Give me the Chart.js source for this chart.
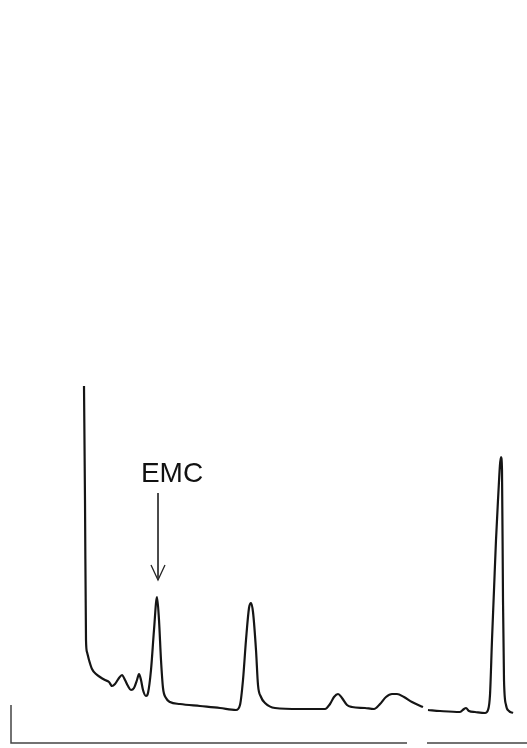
<!DOCTYPE html>
<html>
<head>
<meta charset="utf-8">
<script src="https://cdn.jsdelivr.net/npm/chart.js@4/dist/chart.umd.min.js"></script>
<style>
  html, body { margin: 0; padding: 0; background: #fff; }
  #wrap { width: 527px; height: 748px; position: relative; }
</style>
</head>
<body>
<div id="wrap"><canvas id="chrom"></canvas></div>
<script>
// Chromatogram trace: retention position and detector signal
// (signal measured upward from the bottom edge of the plot frame)
const TRACE_X = [84, 85, 86, 87, 89, 92, 96, 100, 105, 109, 112, 115, 119, 122, 125, 128, 131, 134, 137, 139,
  141, 143, 146, 148, 151, 154, 157, 159, 161, 163, 166, 170, 180, 200, 220, 236, 240, 243, 246, 249,
  251, 253, 256, 258, 261, 265, 275, 300, 325, 330, 334, 338, 342, 347, 352, 365, 374, 380, 386, 392,
  397, 404, 412, 423, 425,
  428, 440, 460, 464, 466, 469, 475, 485, 488, 490, 492, 494, 496, 498, 501, 502, 503, 504, 506, 509, 513];
const TRACE_Y = [362, 248, 108, 96, 88, 79, 74, 71, 68, 66, 62, 64, 70, 73, 68, 62, 58, 60, 68, 74,
  68, 58, 52, 55, 78, 118, 151, 128, 88, 60, 50, 46, 44, 42, 40, 38, 43, 68, 108, 140,
  145, 136, 98, 63, 51, 45, 40, 39, 39, 44, 51, 54, 50, 43, 41, 40, 39, 44, 51, 54,
  54, 51, 46, 41, null,
  38, 37, 36, 39, 40, 37, 36, 35, 38, 53, 108, 158, 208, 248, 291, 278, 148, 68, 43, 37, 35];

// Baseline axis pieces (recorder base line with a break)
const AXIS_X = [11, 11, 407, null, 427, 527];
const AXIS_Y = [43, 5, 5, null, 5, 5];

// Peak label
const LABEL_TEXT = 'EMC';
const LABEL_PEAK_X = 158;
const ARROW_TOP = 255;
const ARROW_TIP = 168;

function pts(xs, ys) {
  return xs.map((x, i) => ({ x, y: ys[i] }));
}

// draws the label above the arrow
const labelPlugin = {
  id: 'peakLabel',
  afterDatasetsDraw(chart) {
    const { ctx, scales } = chart;
    const x = scales.x.getPixelForValue(LABEL_PEAK_X + 14);
    const y = scales.y.getPixelForValue(ARROW_TOP + 11);
    ctx.save();
    ctx.fillStyle = '#111';
    ctx.font = '28px "Liberation Sans", Arial, sans-serif';
    ctx.textAlign = 'center';
    ctx.textBaseline = 'alphabetic';
    ctx.fillText(LABEL_TEXT, x, y);
    ctx.restore();
  }
};

new Chart(document.getElementById('chrom'), {
  type: 'line',
  data: {
    datasets: [
      {
        label: 'trace',
        data: pts(TRACE_X, TRACE_Y),
        borderColor: '#151515',
        borderWidth: 2.2,
        cubicInterpolationMode: 'monotone',
        spanGaps: false
      },
      {
        label: 'axis',
        data: pts(AXIS_X, AXIS_Y),
        borderColor: '#444',
        borderWidth: 1.5,
        tension: 0,
        spanGaps: false
      },
      {
        label: 'arrow',
        data: [
          { x: LABEL_PEAK_X, y: ARROW_TOP },
          { x: LABEL_PEAK_X, y: ARROW_TIP }
        ],
        borderColor: '#333',
        borderWidth: 1,
        tension: 0
      },
      {
        label: 'arrowhead',
        data: [
          { x: LABEL_PEAK_X - 7, y: ARROW_TIP + 15 },
          { x: LABEL_PEAK_X, y: ARROW_TIP },
          { x: LABEL_PEAK_X + 7, y: ARROW_TIP + 15 }
        ],
        borderColor: '#222',
        borderWidth: 1.3,
        tension: 0
      }
    ]
  },
  options: {
    responsive: true,
    maintainAspectRatio: false,
    animation: false,
    layout: { padding: 0 },
    elements: { point: { radius: 0 } },
    scales: {
      x: { type: 'linear', min: 0, max: 527, display: false },
      y: { type: 'linear', min: 0, max: 748, display: false }
    },
    plugins: {
      legend: { display: false },
      tooltip: { enabled: false }
    }
  },
  plugins: [labelPlugin]
});
</script>
</body>
</html>
